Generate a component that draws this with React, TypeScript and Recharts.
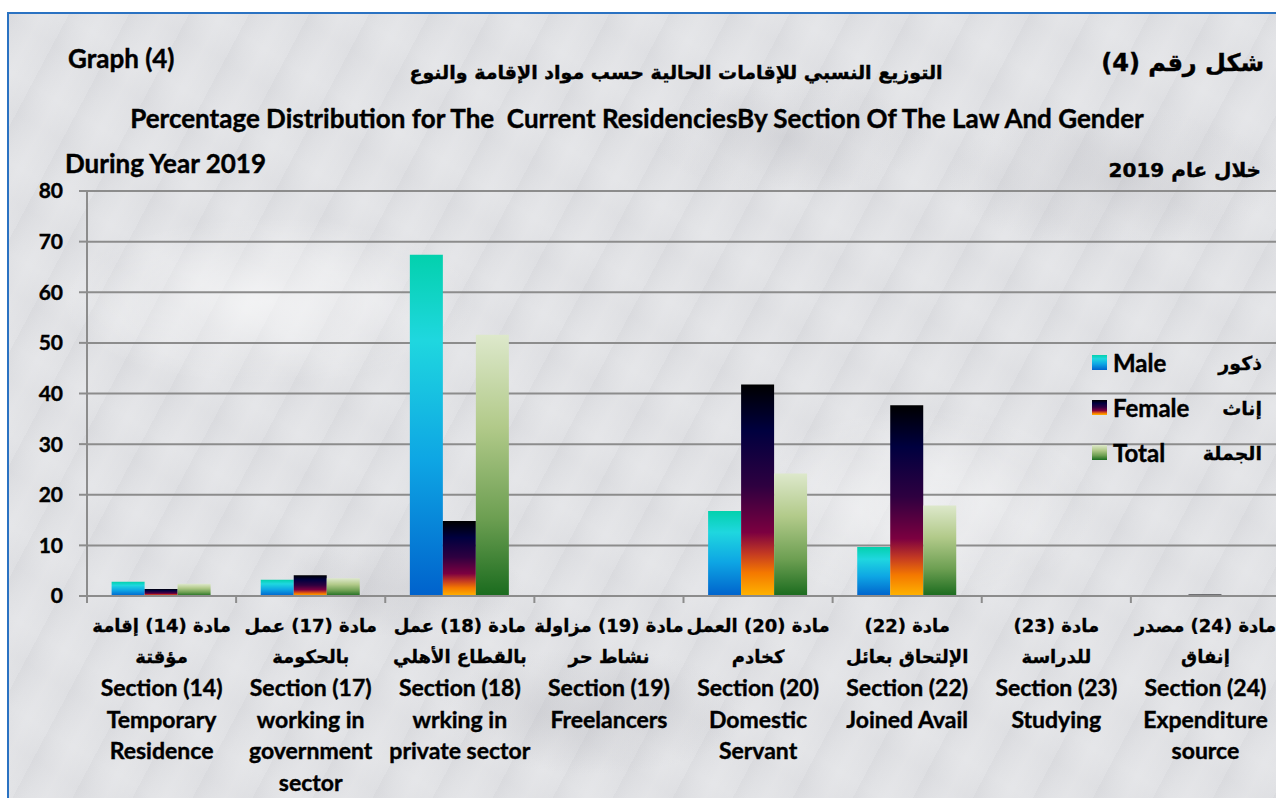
import React from "react";
import {
  BarChart,
  Bar,
  XAxis,
  YAxis,
  CartesianGrid,
  Legend,
} from "recharts";

// section numbers of the law
const sections = ["14", "17", "18", "19", "20", "22", "23", "24"];

// two arabic lines + english lines under each category
const arabicLabels = [
  ["مادة (14) إقامة", "مؤقتة"],
  ["مادة (17) عمل", "بالحكومة"],
  ["مادة (18) عمل", "بالقطاع الأهلي"],
  ["مادة (19) مزاولة", "نشاط حر"],
  ["مادة (20) العمل", "كخادم"],
  ["مادة (22)", "الإلتحاق بعائل"],
  ["مادة (23)", "للدراسة"],
  ["مادة (24) مصدر", "إنفاق"],
];
const englishLabels = [
  ["Section (14)", "Temporary", "Residence"],
  ["Section (17)", "working in", "government", "sector"],
  ["Section (18)", "wrking in", "private sector"],
  ["Section (19)", "Freelancers"],
  ["Section (20)", "Domestic", "Servant"],
  ["Section (22)", "Joined Avail"],
  ["Section (23)", "Studying"],
  ["Section (24)", "Expenditure", "source"],
];

const maleValues = [2.8, 3.2, 67.4, 0, 16.8, 9.7, 0, 0];
const femaleValues = [1.4, 4.1, 14.8, 0, 41.8, 37.7, 0, 0.3];
const totalValues = [2.4, 3.5, 51.6, 0, 24.2, 17.9, 0, 0];

const yTicks = [0, 10, 20, 30, 40, 50, 60, 70, 80];

const seriesInfo = [
  { key: "male", en: "Male", ar: "ذكور" },
  { key: "female", en: "Female", ar: "إناث" },
  { key: "total", en: "Total", ar: "الجملة" },
];

const GRADIENTS: { [key: string]: [number, string][] } = {
  male: [
    [0, "#03d1ad"],
    [0.25, "#1fd7df"],
    [0.6, "#0ea6e4"],
    [1, "#0062cc"],
  ],
  female: [
    [0, "#000000"],
    [0.22, "#00003f"],
    [0.48, "#2e0040"],
    [0.7, "#7c0040"],
    [0.8, "#c43a22"],
    [0.89, "#f47800"],
    [1, "#ffb400"],
  ],
  total: [
    [0, "#dde8cb"],
    [0.35, "#b2ca8a"],
    [0.7, "#6d9f52"],
    [1, "#1a6b1e"],
  ],
};

const data = sections.map((s, i) => ({
  name: s,
  male: maleValues[i],
  female: femaleValues[i],
  total: totalValues[i],
}));

const FONT = "Lato, 'DejaVu Sans', sans-serif";
const AR_FONT = "'DejaVu Sans', sans-serif";
const GRID = "#8c8c8c";

const CategoryTick = (props: any) => {
  const { x, y, payload, index } = props;
  const ar = arabicLabels[index] || [];
  const en = englishLabels[index] || [];
  const half = payload.offset || 0;
  return (
    <g>
      <line x1={x - half} x2={x - half} y1={y} y2={y + 7} stroke={GRID} strokeWidth={2} />
      {ar.map((t, i) => (
        <text
          key={"a" + i}
          x={x}
          y={y + 29 + i * 31}
          textAnchor="middle"
          dominantBaseline="central"
          fontFamily={AR_FONT}
          fontWeight="bold"
          fontSize={18}
          fill="#000"
          stroke="#000"
          strokeWidth={0.3}
        >
          {t}
        </text>
      ))}
      {en.map((t, i) => (
        <text
          key={"e" + i}
          x={x}
          y={y + 91 + i * 31.5}
          textAnchor="middle"
          dominantBaseline="central"
          fontFamily={FONT}
          fontWeight="bold"
          fontSize={23}
          fill="#000"
          stroke="#000"
          strokeWidth={0.4}
        >
          {t}
        </text>
      ))}
    </g>
  );
};

const cssGradient = (key: string) =>
  `linear-gradient(to bottom, ${GRADIENTS[key]
    .map(([o, c]) => `${c} ${o * 100}%`)
    .join(", ")})`;

const renderLegend = () => (
  <div style={{ width: 170 }}>
    {seriesInfo.map((s) => (
      <div
        key={s.key}
        style={{ position: "relative", height: 45, display: "flex", alignItems: "center" }}
      >
        <div style={{ width: 15, height: 15, background: cssGradient(s.key) }} />
        <span
          style={{
            marginLeft: 6,
            fontFamily: FONT,
            fontWeight: 700,
            fontSize: 24,
            color: "#000",
            WebkitTextStroke: "0.4px #000",
          }}
        >
          {s.en}
        </span>
        <span
          style={{
            position: "absolute",
            right: 0,
            fontFamily: AR_FONT,
            fontWeight: 700,
            fontSize: 19,
            color: "#000",
            WebkitTextStroke: "0.3px #000",
          }}
        >
          {s.ar}
        </span>
      </div>
    ))}
  </div>
);

const textStyle = (extra: React.CSSProperties): React.CSSProperties => ({
  position: "absolute",
  fontFamily: FONT,
  fontWeight: 700,
  color: "#000",
  lineHeight: "30px",
  whiteSpace: "nowrap",
  WebkitTextStroke: "0.4px #000",
  ...extra,
});

const marble =
  "radial-gradient(ellipse 300px 120px at 20% 35%, rgba(255,255,255,0.55), transparent 70%)," +
  "radial-gradient(ellipse 260px 140px at 70% 60%, rgba(255,255,255,0.45), transparent 70%)," +
  "radial-gradient(ellipse 220px 90px at 45% 85%, rgba(150,150,158,0.22), transparent 70%)," +
  "radial-gradient(ellipse 240px 100px at 85% 20%, rgba(150,150,158,0.18), transparent 70%)," +
  "radial-gradient(ellipse 180px 70px at 30% 70%, rgba(150,150,158,0.18), transparent 70%)," +
  "radial-gradient(ellipse 200px 80px at 60% 15%, rgba(150,150,158,0.16), transparent 70%)," +
  "repeating-linear-gradient(118deg, rgba(140,140,148,0.06) 0px, rgba(255,255,255,0) 13px, rgba(255,255,255,0.12) 29px, rgba(140,140,148,0) 53px)," +
  "repeating-linear-gradient(32deg, rgba(150,150,160,0.05) 0px, rgba(255,255,255,0) 31px, rgba(150,150,160,0.05) 77px)," +
  "#e2e3e6";

export default function App() {
  return (
    <div
      style={{
        position: "fixed",
        left: 0,
        top: 0,
        width: 1276,
        height: 798,
        overflow: "hidden",
        background: "#ffffff",
      }}
    >
      <div
        style={{
          position: "absolute",
          left: 7,
          top: 12,
          width: 1300,
          height: 820,
          background: marble,
          borderLeft: "2px solid #2a72c2",
          borderTop: "2px solid #2a72c2",
        }}
      />
      <div style={{ position: "absolute", left: 0, top: 0 }}>
        <BarChart
          width={1280}
          height={798}
          data={data}
          margin={{ top: 191, right: 0, bottom: 2, left: 0 }}
          barCategoryGap="16.5%"
          barGap={0}
        >
          <defs>
            {Object.keys(GRADIENTS).map((k) => (
              <linearGradient key={k} id={`grad-${k}`} x1="0" y1="0" x2="0" y2="1">
                {GRADIENTS[k].map(([o, c], i) => (
                  <stop key={i} offset={o} stopColor={c} />
                ))}
              </linearGradient>
            ))}
          </defs>
          <CartesianGrid vertical={false} stroke={GRID} strokeWidth={2} />
          <XAxis
            dataKey="name"
            height={200}
            interval={0}
            tickLine={false}
            tickSize={0}
            tickMargin={0}
            axisLine={{ stroke: GRID, strokeWidth: 2 }}
            tick={<CategoryTick />}
          />
          <YAxis
            width={87}
            domain={[0, 80]}
            ticks={yTicks}
            interval={0}
            tickSize={8}
            tickMargin={16}
            axisLine={{ stroke: GRID, strokeWidth: 2 }}
            tickLine={{ stroke: GRID, strokeWidth: 2 }}
            tick={{
              fill: "#000",
              fontFamily: FONT,
              fontWeight: 700,
              fontSize: 21,
              stroke: "#000",
              strokeWidth: 0.4,
            }}
          />
          <Legend
            layout="vertical"
            align="center"
            verticalAlign="middle"
            content={renderLegend}
            wrapperStyle={{ position: "absolute", left: 1092, top: 340, width: 170 }}
          />
          {seriesInfo.map((s) => (
            <Bar
              key={s.key}
              dataKey={s.key}
              name={s.en}
              fill={`url(#grad-${s.key})`}
              isAnimationActive={false}
            />
          ))}
        </BarChart>
      </div>

      <div style={textStyle({ left: 68, top: 43, fontSize: 26 })}>Graph (4)</div>
      <div
        style={textStyle({ right: 12, top: 48, fontSize: 24, fontFamily: AR_FONT, direction: "rtl" })}
      >
        شكل رقم (4)
      </div>
      <div
        style={textStyle({
          left: 676,
          top: 57,
          transform: "translateX(-50%)",
          fontSize: 19,
          fontFamily: AR_FONT,
          direction: "rtl",
        })}
      >
        التوزيع النسبي للإقامات الحالية حسب مواد الإقامة والنوع
      </div>
      <div
        style={textStyle({ left: 637, top: 103, transform: "translateX(-50%)", fontSize: 26 })}
      >
        Percentage Distribution for The&nbsp; Current ResidenciesBy Section Of The Law And Gender
      </div>
      <div style={textStyle({ left: 65, top: 148, fontSize: 26 })}>During Year 2019</div>
      <div
        style={textStyle({ right: 15, top: 155, fontSize: 20, fontFamily: AR_FONT, direction: "rtl" })}
      >
        خلال عام 2019
      </div>
    </div>
  );
}
